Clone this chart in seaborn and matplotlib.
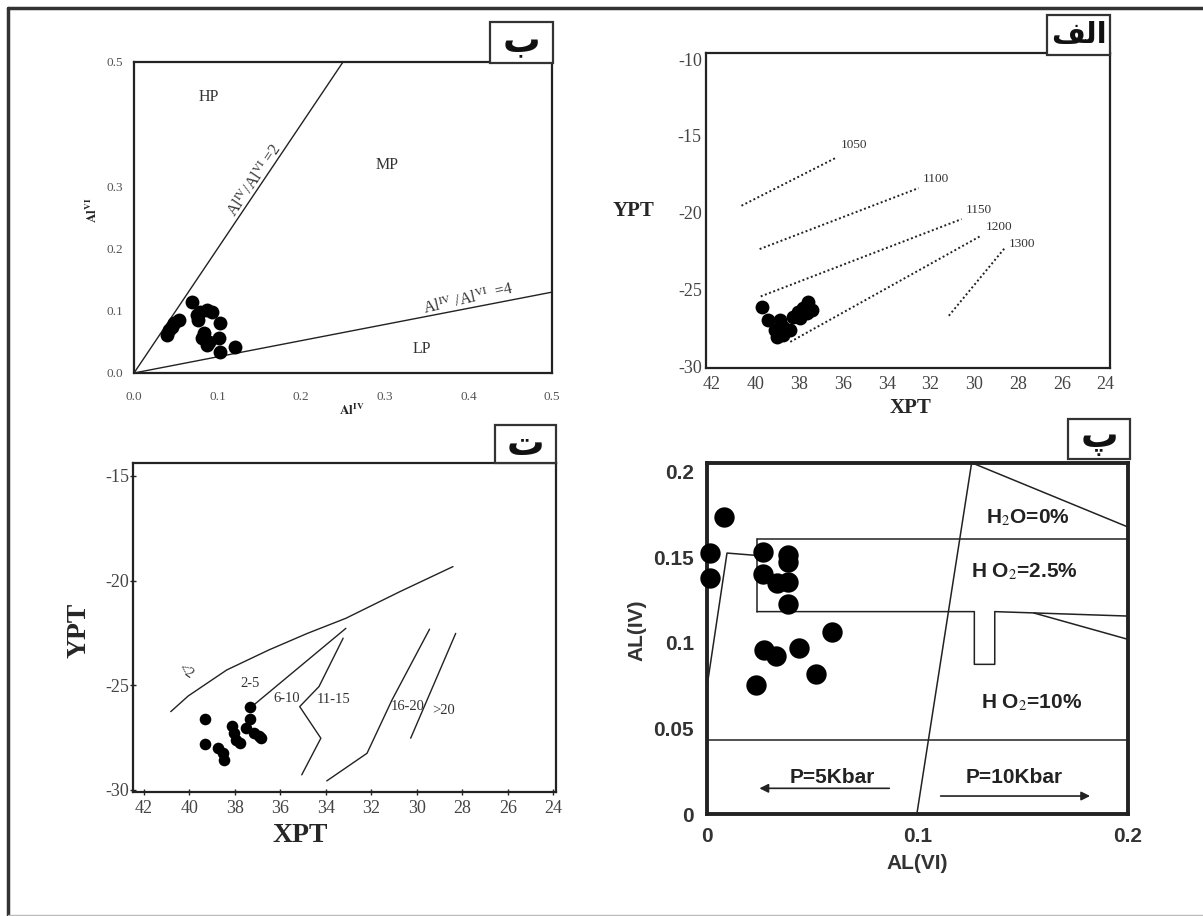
import matplotlib
matplotlib.use("Agg")
import matplotlib.pyplot as plt
import seaborn as sns
from matplotlib.patches import Rectangle
from matplotlib.lines import Line2D

# ---------------- Panel ب : Al(IV) vs Al(VI) ----------------
b_al_iv = [0.069, 0.039, 0.045, 0.048, 0.054, 0.042, 0.075, 0.079, 0.087, 0.093,
           0.077, 0.103, 0.084, 0.081, 0.090, 0.102, 0.087, 0.103, 0.121]
b_al_vi = [0.114, 0.061, 0.074, 0.080, 0.085, 0.069, 0.093, 0.098, 0.101, 0.098,
           0.085, 0.080, 0.064, 0.056, 0.050, 0.056, 0.045, 0.034, 0.042]
b_ratio2_x = [0.0, 0.25]
b_ratio2_y = [0.0, 0.5]
b_ratio4_x = [0.0, 0.5]
b_ratio4_y = [0.0, 0.13]
b_xticks = [0.0, 0.1, 0.2, 0.3, 0.4, 0.5]
b_yticks = [0.0, 0.1, 0.2, 0.3, 0.5]
b_fields = ["HP", "MP", "LP"]
b_field_x = [0.089, 0.303, 0.344]
b_field_y = [0.444, 0.335, 0.039]

# ---------------- Panel الف : XPT vs YPT with isotherms ----------------
a_xpt = [39.69, 39.42, 39.10, 39.01, 38.87, 38.74, 38.28, 38.05, 37.82, 37.59,
         37.41, 38.42, 38.74, 37.96, 37.64]
a_ypt = [-26.12, -26.97, -27.62, -28.07, -26.97, -27.42, -26.77, -26.44, -26.18, -25.79,
         -26.31, -27.62, -27.94, -26.83, -26.51]
a_iso_labels = ["1050", "1100", "1150", "1200", "1300"]
a_iso_x = [[40.63, 36.29], [39.80, 32.54], [39.75, 30.58], [38.40, 29.70], [31.16, 28.61]]
a_iso_y = [[-19.54, -16.40], [-22.36, -18.39], [-25.44, -20.41], [-28.40, -21.50], [-26.70, -22.30]]
a_iso_lx = [35.50, 31.75, 29.79, 28.85, 27.82]
a_iso_ly = [-15.57, -17.80, -19.80, -20.95, -22.00]
a_xticks = [42, 40, 38, 36, 34, 32, 30, 28, 26, 24]
a_yticks = [-10, -15, -20, -25, -30]

# ---------------- Panel ت : XPT vs YPT with fields ----------------
t_xpt = [39.33, 39.33, 38.73, 38.53, 38.48, 38.14, 38.02, 37.94, 37.77, 37.35,
         37.35, 37.52, 37.18, 36.92, 36.84]
t_ypt = [-26.62, -27.80, -27.98, -28.25, -28.57, -26.94, -27.29, -27.61, -27.77, -26.05,
         -26.61, -27.05, -27.29, -27.42, -27.53]
t_bound_x = [
    [40.82, 40.05, 38.36, 36.50, 34.81, 33.12, 30.75, 28.41],
    [37.40, 33.12],
    [33.24, 34.30, 35.15, 34.22, 35.06],
    [29.44, 31.09, 32.19, 33.96],
    [28.29, 30.27],
]
t_bound_y = [
    [-26.26, -25.51, -24.27, -23.31, -22.52, -21.80, -20.53, -19.33],
    [-26.15, -22.28],
    [-22.75, -25.06, -26.02, -27.53, -29.28],
    [-22.32, -25.70, -28.25, -29.57],
    [-22.52, -27.53],
]
t_labels = ["<2", "2-5", "6-10", "11-15", "16-20", ">20"]
t_label_x = [40.17, 37.35, 35.74, 33.68, 30.41, 28.80]
t_label_y = [-24.35, -24.90, -25.62, -25.67, -26.02, -26.21]
t_xticks = [42, 40, 38, 36, 34, 32, 30, 28, 26, 24]
t_yticks = [-15, -20, -25, -30]

# ---------------- Panel پ : AL(VI) vs AL(IV) ----------------
p_al_vi = [0.0080, 0.0012, 0.0012, 0.0268, 0.0268, 0.0386, 0.0386, 0.0331, 0.0386, 0.0386,
           0.0273, 0.0328, 0.0437, 0.0592, 0.0519, 0.0231]
p_al_iv = [0.1737, 0.1526, 0.1377, 0.1532, 0.1402, 0.1513, 0.1474, 0.1347, 0.1353, 0.1225,
           0.0958, 0.0923, 0.0972, 0.1065, 0.0818, 0.0753]
p_lines_x = [
    [0.0237, 0.2],
    [0.0237, 0.0237],
    [0.0237, 0.1270, 0.1270, 0.1367, 0.1367, 0.2],
    [0.1553, 0.2],
    [0.126, 0.2],
    [0.0997, 0.1257],
    [0.0, 0.0095, 0.0237],
    [0.0, 0.2],
]
p_lines_y = [
    [0.1606, 0.1606],
    [0.1606, 0.1182],
    [0.1182, 0.1182, 0.0874, 0.0874, 0.1182, 0.1156],
    [0.1174, 0.1020],
    [0.205, 0.1676],
    [0.0, 0.205],
    [0.0744, 0.1524, 0.1510],
    [0.0432, 0.0432],
]
p_texts = [r"H$_2$O=0%", r"H O$_2$=2.5%", r"H O$_2$=10%", "P=5Kbar", "P=10Kbar"]
p_text_x = [0.1525, 0.1507, 0.1544, 0.0596, 0.1460]
p_text_y = [0.1730, 0.1416, 0.0648, 0.0215, 0.0215]
p_arrow_from_x = [0.0866, 0.1110]
p_arrow_to_x = [0.0249, 0.1820]
p_arrow_y = [0.0150, 0.0105]
p_xticks = [0, 0.1, 0.2]
p_xticklabels = ["0", "0.1", "0.2"]
p_yticks = [0, 0.05, 0.1, 0.15, 0.2]
p_yticklabels = ["0", "0.05", "0.1", "0.15", "0.2"]

# Panel tags (Persian letters); "الف" in visual-order presentation forms
tags = ["\u0628", "\uFED2\uFEDF\uFE8D", "\u062A", "\u067E"]

# ======================================================================
sns.set_style("white")
plt.rcParams["font.family"] = ["Liberation Serif", "DejaVu Sans"]
plt.rcParams["mathtext.fontset"] = "stix"

W, H = 1203, 916
fig = plt.figure(figsize=(W / 100, H / 100), dpi=100)
fig.patch.set_facecolor("white")


def make_ax(x0, y0, x1, y1):
    return fig.add_axes([x0 / W, 1 - y1 / H, (x1 - x0) / W, (y1 - y0) / H])


def seg(ax, xs, ys, **kw):
    sns.lineplot(x=xs, y=ys, sort=False, estimator=None, ax=ax, legend=False, **kw)


def style_spines(ax, lw, color="#222222"):
    for s in ax.spines.values():
        s.set_visible(True)
        s.set_linewidth(lw)
        s.set_color(color)


# ---------------- Panel ب ----------------
axB = make_ax(134, 62, 552, 373)
seg(axB, b_ratio2_x, b_ratio2_y, color="#222222", linewidth=1.0)
seg(axB, b_ratio4_x, b_ratio4_y, color="#222222", linewidth=1.0)
sns.scatterplot(x=b_al_iv, y=b_al_vi, ax=axB, s=100, color="black", linewidth=0, zorder=5)
axB.set_xlim(0, 0.5)
axB.set_ylim(0, 0.5)
axB.set_xticks(b_xticks, [f"{v:.1f}" for v in b_xticks])
axB.set_yticks(b_yticks, [f"{v:.1f}" for v in b_yticks])
axB.tick_params(axis="x", length=0, labelsize=9.5, labelcolor="#555555", pad=13)
axB.tick_params(axis="y", length=0, labelsize=9.5, labelcolor="#555555", pad=8)
style_spines(axB, 1.6)
for name, fx, fy in zip(b_fields, b_field_x, b_field_y):
    axB.text(fx, fy, name, ha="center", va="center", fontsize=11.5, color="#333333")
axB.text(0.145, 0.31, r"Al$^{\mathrm{IV}}$/Al$^{\mathrm{VI}}$ =2", rotation=56,
         ha="center", va="center", fontsize=11.5, color="#333333")
axB.text(0.40, 0.118, r"Al$^{\mathrm{IV}}$ /Al$^{\mathrm{VI}}$  =4", rotation=13,
         ha="center", va="center", fontsize=11.5, color="#333333")
axB.set_xlabel(r"$\mathbf{Al^{IV}}$", fontsize=9.5, va="center")
axB.xaxis.set_label_coords(0.52, -0.119)
axB.set_ylabel(r"$\mathbf{Al^{VI}}$", fontsize=9.5, va="center")
axB.yaxis.set_label_coords(-0.10, 0.524)

# ---------------- Panel الف ----------------
axA = make_ax(706, 53, 1110, 368)
for xs, ys in zip(a_iso_x, a_iso_y):
    seg(axA, xs, ys, color="#222222", linewidth=1.4, linestyle=(0, (1, 1.3)))
for lab, lx, ly in zip(a_iso_labels, a_iso_lx, a_iso_ly):
    axA.text(lx, ly, lab, ha="center", va="center", fontsize=9.5, color="#333333")
sns.scatterplot(x=a_xpt, y=a_ypt, ax=axA, s=100, color="black", linewidth=0, zorder=5)
axA.set_xlim(42.25, 23.8)
axA.set_ylim(-30.1, -9.6)
axA.set_xticks(a_xticks, [str(v) for v in a_xticks])
axA.set_yticks(a_yticks, [str(v) for v in a_yticks])
axA.tick_params(axis="x", length=0, labelsize=13, labelcolor="#444444", pad=6)
axA.tick_params(axis="y", length=0, labelsize=13, labelcolor="#444444", pad=3)
style_spines(axA, 1.6)
axA.set_xlabel("XPT", fontsize=15, fontweight="bold", va="center")
axA.xaxis.set_label_coords(0.507, -0.127)
axA.set_ylabel("YPT", fontsize=15, fontweight="bold", rotation=0, va="center", ha="center")
axA.yaxis.set_label_coords(-0.18, 0.50)

# ---------------- Panel ت ----------------
axT = make_ax(133, 463, 556, 792)
for xs, ys in zip(t_bound_x, t_bound_y):
    seg(axT, xs, ys, color="#222222", linewidth=1.0)
for lab, lx, ly in zip(t_labels, t_label_x, t_label_y):
    rot = -35 if lab == "<2" else 0
    axT.text(lx, ly, lab, ha="center", va="center", fontsize=10.5, color="#333333",
             rotation=rot)
sns.scatterplot(x=t_xpt, y=t_ypt, ax=axT, s=70, color="black", linewidth=0, zorder=5)
axT.set_xlim(42.48, 23.88)
axT.set_ylim(-30.1, -14.38)
axT.set_xticks(t_xticks, [str(v) for v in t_xticks])
axT.set_yticks(t_yticks, [str(v) for v in t_yticks])
axT.tick_params(axis="both", direction="inout", length=5, width=1.0, color="#222222",
                labelsize=13, labelcolor="#444444")
axT.tick_params(axis="x", pad=3, bottom=True)
axT.tick_params(axis="y", pad=0, left=True)
style_spines(axT, 1.6)
axT.set_xlabel("XPT", fontsize=20, fontweight="bold", va="center")
axT.xaxis.set_label_coords(0.395, -0.131)
axT.set_ylabel("YPT", fontsize=20, fontweight="bold", va="center")
axT.yaxis.set_label_coords(-0.128, 0.49)

# ---------------- Panel پ ----------------
axP = make_ax(707, 463, 1128, 814)
for xs, ys in zip(p_lines_x, p_lines_y):
    seg(axP, xs, ys, color="#222222", linewidth=1.1)
sans = "Liberation Sans"
for txt, tx, ty in zip(p_texts, p_text_x, p_text_y):
    axP.text(tx, ty, txt, ha="center", va="center", fontsize=15, fontweight="bold",
             family=sans, color="#222222")
for x0, x1, y in zip(p_arrow_from_x, p_arrow_to_x, p_arrow_y):
    axP.annotate("", xy=(x1, y), xytext=(x0, y),
                 arrowprops=dict(arrowstyle="-|>", lw=1.2, color="#222222",
                                 mutation_scale=13, shrinkA=0, shrinkB=0))
sns.scatterplot(x=p_al_vi, y=p_al_iv, ax=axP, s=215, color="black", linewidth=0, zorder=5,
                clip_on=False)
axP.set_xlim(0, 0.2)
axP.set_ylim(0, 0.205)
axP.set_xticks(p_xticks, p_xticklabels, family=sans, fontweight="bold")
axP.set_yticks(p_yticks, p_yticklabels, family=sans, fontweight="bold")
axP.tick_params(axis="both", length=0, labelsize=15, labelcolor="#333333", pad=9.5)
style_spines(axP, 2.8)
axP.set_xlabel("AL(VI)", fontsize=15, fontweight="bold", family=sans, color="#333333",
               va="center")
axP.xaxis.set_label_coords(0.499, -0.14)
axP.set_ylabel("AL(IV)", fontsize=15, fontweight="bold", family=sans, color="#333333",
               va="center")
axP.yaxis.set_label_coords(-0.167, 0.524)

# ---------------- Tag boxes ----------------
tag_boxes = [(490, 22, 553, 63), (1047, 15, 1110, 55), (495, 425, 556, 463), (1068, 419, 1130, 459)]
tag_sizes = [27, 21, 27, 27]
tag_dy = [0, 0, -1, 1]
for tag, (x0, y0, x1, y1), fs, dy in zip(tags, tag_boxes, tag_sizes, tag_dy):
    fig.add_artist(Rectangle((x0 / W, 1 - y1 / H), (x1 - x0) / W, (y1 - y0) / H,
                             transform=fig.transFigure, facecolor="white",
                             edgecolor="#333333", linewidth=1.6, zorder=10))
    fig.text((x0 + x1) / 2 / W, 1 - ((y0 + y1) / 2 - dy) / H, tag, ha="center", va="center",
             fontsize=fs, fontweight="bold", family="DejaVu Sans", color="#111111",
             zorder=11)

# ---------------- Outer frame ----------------
fig.add_artist(Line2D([8 / W, 8 / W], [1 - 8 / H, 0], transform=fig.transFigure,
                      color="#333333", linewidth=2.5))
fig.add_artist(Line2D([8 / W, 1], [1 - 8 / H, 1 - 8 / H], transform=fig.transFigure,
                      color="#333333", linewidth=2.5))
fig.add_artist(Line2D([8 / W, 1], [1 / H, 1 / H], transform=fig.transFigure,
                      color="#bbbbbb", linewidth=1.0))

fig.savefig("out.png", dpi=100, facecolor="white")
